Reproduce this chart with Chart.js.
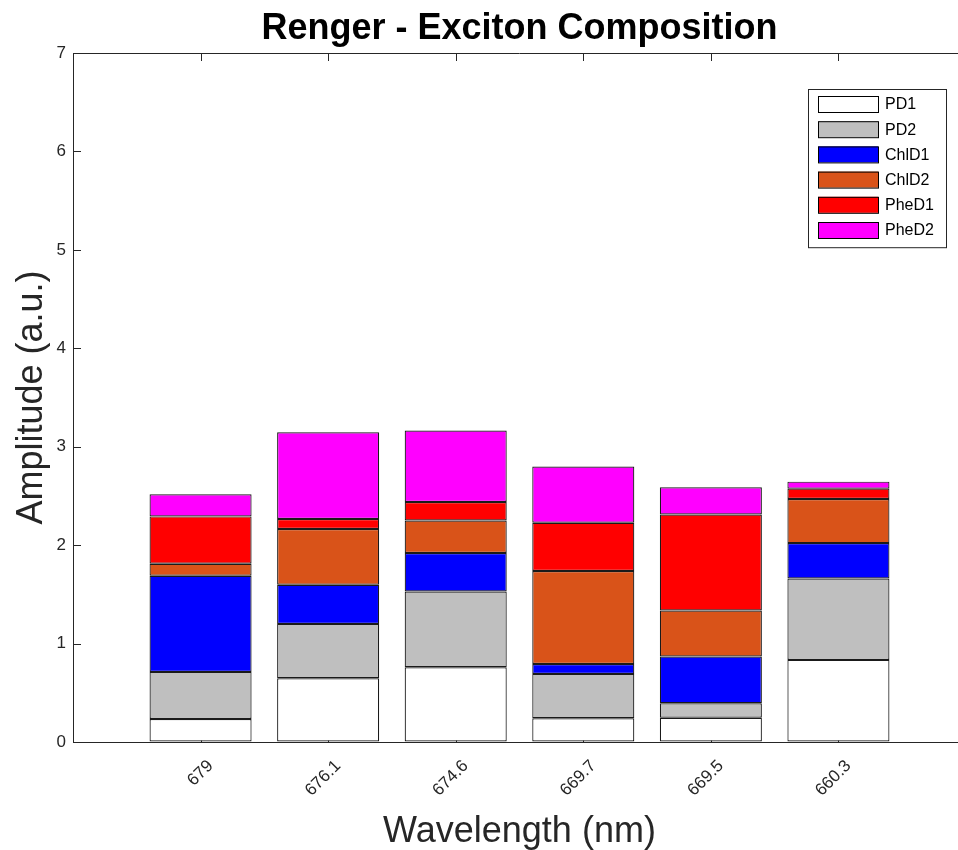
<!DOCTYPE html>
<html lang="en">
<head>
    <meta charset="UTF-8">
    <title>Renger - Exciton Composition</title>
    <script src="https://cdn.jsdelivr.net/npm/chart.js@4"></script>
    <style>
        html, body { margin: 0; padding: 0; background: #fff; overflow: hidden; }
        .chart-container { position: relative; width: 966px; height: 850px; }
    </style>
</head>
<body>
    <div class="chart-container">
        <canvas id="excitonChart"></canvas>
    </div>

    <script>
        // Exciton states (nm) and pigment contributions to each one
        const wavelengths = ['679', '676.1', '674.6', '669.7', '669.5', '660.3'];
        const pd1   = [0.234, 0.648, 0.760, 0.241, 0.247, 0.834];
        const pd2   = [0.478, 0.552, 0.769, 0.451, 0.147, 0.827];
        const chlD1 = [0.977, 0.397, 0.391, 0.101, 0.474, 0.360];
        const chlD2 = [0.122, 0.567, 0.331, 0.944, 0.468, 0.448];
        const pheD1 = [0.481, 0.102, 0.187, 0.491, 0.976, 0.105];
        const pheD2 = [0.224, 0.881, 0.726, 0.570, 0.275, 0.071];

        const pigmentNames  = ['PD1', 'PD2', 'ChlD1', 'ChlD2', 'PheD1', 'PheD2'];
        const pigmentValues = [pd1, pd2, chlD1, chlD2, pheD1, pheD2];
        const pigmentColors = ['#ffffff', '#bfbfbf', '#0000ff', '#d95319', '#ff0000', '#ff00ff'];
        const yTicks = [0, 1, 2, 3, 4, 5, 6, 7];

        const FONT = '"Liberation Sans", Arial, Helvetica, sans-serif';
        const AXIS_COLOR = '#262626';

        const datasets = pigmentNames.map((name, k) => ({
            label: name,
            data: pigmentValues[k].map((v, i) => ({ x: i + 1, y: v })),
            backgroundColor: pigmentColors[k],
            borderColor: '#1a1a1a',
            borderWidth: 1.2,
            borderSkipped: false,
            barPercentage: 0.8,
            categoryPercentage: 1.0
        }));

        // title centred over the plot area
        const titlePlugin = {
            id: 'plotTitle',
            afterDraw(chart) {
                const { ctx, chartArea } = chart;
                ctx.save();
                ctx.fillStyle = '#000';
                ctx.font = 'bold 36px ' + FONT;
                ctx.textAlign = 'center';
                ctx.textBaseline = 'alphabetic';
                ctx.fillText('Renger - Exciton Composition', (chartArea.left + chartArea.right) / 2, 39);
                ctx.restore();
            }
        };

        // closed box with inward tick marks, drawn behind the bars
        const boxPlugin = {
            id: 'axesBox',
            beforeDatasetsDraw(chart) {
                const { ctx, chartArea: a, scales } = chart;
                const len = 8;
                ctx.save();
                ctx.strokeStyle = AXIS_COLOR;
                ctx.lineWidth = 1;
                ctx.beginPath();
                ctx.moveTo(a.left, a.top + 0.5);
                ctx.lineTo(a.right, a.top + 0.5);
                ctx.moveTo(a.right - 0.5, a.top);
                ctx.lineTo(a.right - 0.5, a.bottom);
                scales.y.ticks.forEach(t => {
                    const y = Math.round(scales.y.getPixelForValue(t.value)) + 0.5;
                    ctx.moveTo(a.left, y);
                    ctx.lineTo(a.left + len, y);
                    ctx.moveTo(a.right, y);
                    ctx.lineTo(a.right - len, y);
                });
                scales.x.ticks.forEach(t => {
                    const x = Math.round(scales.x.getPixelForValue(t.value)) + 0.5;
                    ctx.moveTo(x, a.top);
                    ctx.lineTo(x, a.top + len);
                    ctx.moveTo(x, a.bottom);
                    ctx.lineTo(x, a.bottom - len);
                });
                ctx.stroke();
                ctx.restore();
            }
        };

        // boxed legend in the upper right corner of the plot
        const legendPlugin = {
            id: 'boxLegend',
            afterDraw(chart) {
                const { ctx, chartArea: a } = chart;
                const boxW = 138, rowH = 25.2, pad = 2;
                const x0 = a.right - 20 - boxW;
                const y0 = a.top + 36;
                const items = chart.data.datasets;
                const boxH = items.length * rowH + pad * 2 + 3;
                ctx.save();
                ctx.fillStyle = '#fff';
                ctx.fillRect(x0, y0, boxW, boxH);
                ctx.strokeStyle = AXIS_COLOR;
                ctx.lineWidth = 1;
                ctx.strokeRect(x0 + 0.5, y0 + 0.5, boxW, boxH);
                ctx.font = '16px ' + FONT;
                ctx.textBaseline = 'middle';
                ctx.textAlign = 'left';
                items.forEach((ds, i) => {
                    const cy = y0 + pad + 13 + i * rowH;
                    ctx.fillStyle = ds.backgroundColor;
                    ctx.fillRect(x0 + 10, cy - 8, 60, 16);
                    ctx.strokeStyle = '#000';
                    ctx.strokeRect(x0 + 10.5, cy - 7.5, 60, 16);
                    ctx.fillStyle = '#000';
                    ctx.fillText(ds.label, x0 + 77, cy + 1);
                });
                ctx.restore();
            }
        };

        new Chart(document.getElementById('excitonChart').getContext('2d'), {
            type: 'bar',
            data: { datasets: datasets },
            plugins: [boxPlugin, titlePlugin, legendPlugin],
            options: {
                responsive: true,
                maintainAspectRatio: false,
                animation: false,
                layout: { padding: { top: 53, left: 0, right: 0, bottom: 0 } },
                plugins: {
                    legend: { display: false },
                    title: { display: false },
                    tooltip: { enabled: false }
                },
                scales: {
                    x: {
                        type: 'linear',
                        stacked: true,
                        offset: false,
                        min: 0,
                        max: 7,
                        afterBuildTicks: scale => {
                            scale.ticks = wavelengths.map((w, i) => ({ value: i + 1 }));
                        },
                        afterFit: scale => { scale.height = 108; },
                        grid: { display: true, offset: false, drawOnChartArea: false, drawTicks: false },
                        border: { display: true, color: AXIS_COLOR, width: 1 },
                        ticks: {
                            autoSkip: false,
                            minRotation: 45,
                            maxRotation: 45,
                            padding: 14,
                            labelOffset: 10,
                            color: AXIS_COLOR,
                            font: { family: FONT, size: 17 },
                            callback: v => wavelengths[v - 1]
                        },
                        title: {
                            display: true,
                            text: 'Wavelength (nm)',
                            color: AXIS_COLOR,
                            font: { family: FONT, size: 36 },
                            padding: { top: 0, bottom: -4 }
                        }
                    },
                    y: {
                        stacked: true,
                        min: 0,
                        max: 7,
                        afterBuildTicks: scale => {
                            scale.ticks = yTicks.map(v => ({ value: v }));
                        },
                        afterFit: scale => { scale.width = 73; },
                        grid: { display: true, drawOnChartArea: false, drawTicks: false },
                        border: { display: true, color: AXIS_COLOR, width: 1 },
                        ticks: {
                            padding: 7,
                            color: AXIS_COLOR,
                            font: { family: FONT, size: 17 }
                        },
                        title: {
                            display: true,
                            text: 'Amplitude (a.u.)',
                            color: AXIS_COLOR,
                            font: { family: FONT, size: 36 },
                            padding: { top: 10, bottom: 0 }
                        }
                    }
                }
            }
        });
    </script>
</body>
</html>
